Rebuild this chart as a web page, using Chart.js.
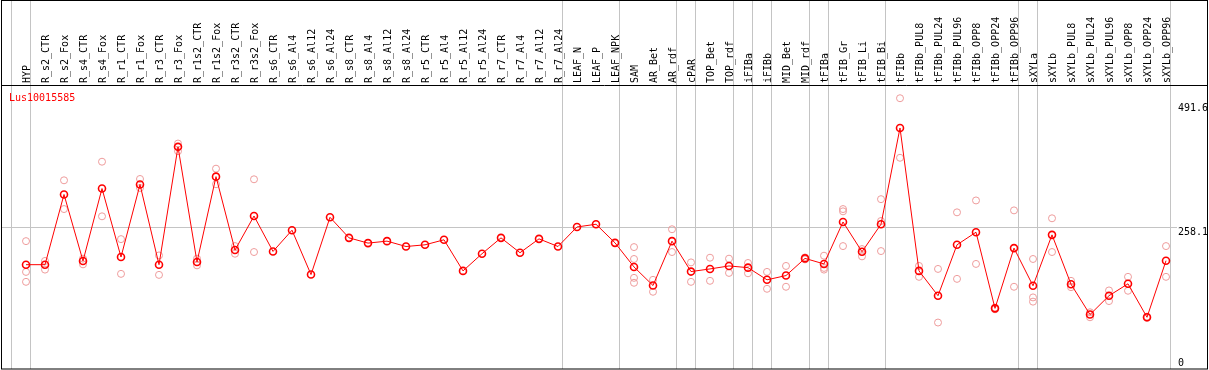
<!DOCTYPE html>
<html>
<head>
<meta charset="utf-8">
<script src="https://cdn.jsdelivr.net/npm/chart.js@4/dist/chart.umd.min.js"></script>
<style>
  html, body { margin: 0; padding: 0; background: #fff; }
  canvas { display: block; }
</style>
</head>
<body>
<canvas id="grafico" width="1209" height="370"></canvas>
<script>
const geneName = 'Lus10015585';

const categories = ['HYP', 'R_s2_CTR', 'R_s2_Fox', 'R_s4_CTR', 'R_s4_Fox', 'R_r1_CTR', 'R_r1_Fox', 'R_r3_CTR', 'R_r3_Fox',
    'R_r1s2_CTR', 'R_r1s2_Fox', 'R_r3s2_CTR', 'R_r3s2_Fox', 'R_s6_CTR', 'R_s6_Al4', 'R_s6_Al12', 'R_s6_Al24',
    'R_s8_CTR', 'R_s8_Al4', 'R_s8_Al12', 'R_s8_Al24', 'R_r5_CTR', 'R_r5_Al4', 'R_r5_Al12', 'R_r5_Al24',
    'R_r7_CTR', 'R_r7_Al4', 'R_r7_Al12', 'R_r7_Al24', 'LEAF_N', 'LEAF_P', 'LEAF_NPK', 'SAM', 'AR_Bet', 'AR_rdf',
    'cPAR', 'TOP_Bet', 'TOP_rdf', 'iFIBa', 'iFIBb', 'MID_Bet', 'MID_rdf', 'tFIBa', 'tFIB_Gr', 'tFIB_Li', 'tFIB_Bi',
    'tFIBb', 'tFIBb_PUL8', 'tFIBb_PUL24', 'tFIBb_PUL96', 'tFIBb_OPP8', 'tFIBb_OPP24', 'tFIBb_OPP96',
    'sXYLa', 'sXYLb', 'sXYLb_PUL8', 'sXYLb_PUL24', 'sXYLb_PUL96', 'sXYLb_OPP8', 'sXYLb_OPP24', 'sXYLb_OPP96'];

// media por amostra (linha vermelha)
const meanValues = [187.7, 187.7, 319.8, 194.7, 331.0, 202.1, 338.5, 187.7, 409.5, 192.8, 353.4, 215.2, 279.3,
    212.6, 252.6, 169.1, 276.9, 238.2, 228.3, 232.0, 221.9, 225.1, 234.5, 176.0, 208.3, 238.2, 210.2, 236.3, 221.9,
    258.7, 263.8, 228.8, 183.4, 148.5, 232.0, 174.7, 179.7, 185.3, 182.1, 159.2, 167.2, 199.5, 189.1, 268.1, 212.0,
    263.8, 445.0, 176.0, 129.3, 225.1, 248.8, 105.5, 218.9, 148.0, 243.8, 150.9, 93.8, 129.3, 151.7, 88.7, 195.2];

// replicas (pontos claros)
const rep1 = [232.0, 194.7, 346.5, 199.0, 381.5, 235.8, 349.0, 205.1, 415.7, 199.0, 368.4, 222.7, 348.4,
    null, null, null, null, null, null, null, null, null, null, null, null, null, null, null, null, null, null, null,
    220.8, 159.2, 254.4, 192.0, 200.8, 199.0, 190.9, 174.1, 185.3, 201.4, 204.6, 292.4, 217.1, 311.0, 501.0,
    185.3, 179.7, 286.2, 308.6, 106.9, 289.9, 198.4, 275.0, 157.3, 98.1, 139.2, 164.8, 90.0, 222.7];
const rep2 = [174.1, 178.4, 292.4, 188.3, 278.7, 170.4, 332.1, 168.5, 401.3, 186.4, 339.1, 208.3, 211.5,
    null, null, null, null, null, null, null, null, null, null, null, null, null, null, null, null, null, null, null,
    198.4, 136.7, 211.5, 155.4, 157.3, 172.2, 171.5, 142.3, 146.1, 197.6, 181.6, 288.1, 203.3, 269.9, 388.9,
    164.8, 78.8, 161.0, 189.1, 103.7, 146.1, 126.1, 211.5, 145.3, 88.7, 119.2, 138.6, 87.5, 164.8];
const rep3 = [155.4, null, null, null, null, null, null, null, null, null, null, null, null,
    null, null, null, null, null, null, null, null, null, null, null, null, null, null, null, null, null, null, null,
    162.9, null, null, null, null, null, null, null, null, null, 178.4, 222.7, null, 213.3, null,
    null, null, null, null, null, null, 118.1, null, null, null, null, null, null, null];
const rep4 = [null, null, null, null, null, null, null, null, null, null, null, null, null,
    null, null, null, null, null, null, null, null, null, null, null, null, null, null, null, null, null, null, null,
    153.6, null, null, null, null, null, null, null, null, null, null, null, null, null, null,
    null, null, null, null, null, null, null, null, null, null, null, null, null, null];

const yTicks = [0, 258.1, 491.6];
const yGrid = [258.1];
const yMax = 524;
// ultima amostra de cada grupo (linha cinzenta a seguir)
const groupEnds = ['HYP', 'R_r7_Al24', 'LEAF_NPK', 'AR_rdf', 'cPAR', 'TOP_rdf', 'iFIBa', 'iFIBb', 'MID_rdf',
    'tFIBa', 'tFIB_Bi', 'tFIBb_OPP96', 'sXYLa', 'sXYLb_OPP96'];

const FONTE = '10px "DejaVu Sans Mono", monospace';
const CINZA = '#c4c4c4';

const moldura = {
    id: 'moldura',
    beforeDatasetsDraw(chart) {
        const ctx = chart.ctx;
        const xs = chart.scales.x, ys = chart.scales.y;
        const passo = xs.getPixelForValue(1) - xs.getPixelForValue(0);
        ctx.save();
        ctx.strokeStyle = CINZA;
        ctx.lineWidth = 1;
        const linhaV = px => {
            const x = Math.floor(px) + 0.5;
            ctx.beginPath(); ctx.moveTo(x, 0); ctx.lineTo(x, 369); ctx.stroke();
        };
        linhaV(xs.getPixelForValue(0) - passo + 4.5);
        groupEnds.forEach(nome => linhaV(xs.getPixelForValue(categories.indexOf(nome)) + 4.5));
        yGrid.forEach(v => {
            const y = Math.floor(ys.getPixelForValue(v)) + 0.5;
            ctx.beginPath(); ctx.moveTo(1, y); ctx.lineTo(1177, y); ctx.stroke();
        });
        ctx.restore();
    },
    afterDraw(chart) {
        const ctx = chart.ctx;
        const xs = chart.scales.x, ys = chart.scales.y;
        ctx.save();
        ctx.font = FONTE;
        ctx.fillStyle = '#000';
        // rotulos das amostras, na vertical
        categories.forEach((nome, i) => {
            const x = xs.getPixelForValue(i) + 4;
            ctx.save();
            ctx.translate(x, 83);
            ctx.rotate(-Math.PI / 2);
            ctx.textAlign = 'left';
            ctx.textBaseline = 'alphabetic';
            ctx.fillText(nome, 0, 0);
            ctx.restore();
        });
        // eixo y a direita
        ctx.textAlign = 'left';
        ctx.textBaseline = 'alphabetic';
        yTicks.forEach(v => {
            const y = Math.min(ys.getPixelForValue(v) + 7.5, 366);
            ctx.fillText(String(v), 1178, y);
        });
        // titulo
        ctx.fillStyle = '#ff0000';
        ctx.fillText(geneName, 9, 100.5);
        // moldura preta
        ctx.strokeStyle = '#000';
        ctx.lineWidth = 1;
        ctx.strokeRect(1.5, 0.5, 1206, 368.5);
        ctx.beginPath(); ctx.moveTo(1, 85.5); ctx.lineTo(1208, 85.5); ctx.stroke();
        ctx.restore();
    }
};

const corClara = '#ee9c9c';
const replica = dados => ({
    data: dados,
    showLine: false,
    pointRadius: 3.5,
    pointBorderWidth: 1,
    pointBorderColor: corClara,
    pointBackgroundColor: 'rgba(0,0,0,0)',
    clip: false
});

new Chart(document.getElementById('grafico'), {
    type: 'line',
    data: {
        labels: categories,
        datasets: [{
            data: meanValues,
            borderColor: '#ff0000',
            borderWidth: 1,
            pointRadius: 3.5,
            pointBorderWidth: 1.6,
            pointBorderColor: '#ff0000',
            pointBackgroundColor: 'rgba(0,0,0,0)',
            tension: 0,
            clip: false
        }, replica(rep1), replica(rep2), replica(rep3), replica(rep4)]
    },
    options: {
        responsive: false,
        animation: false,
        devicePixelRatio: 1,
        layout: { padding: { left: 16.5, right: 33.5, top: 86, bottom: 3.5 } },
        plugins: { legend: { display: false }, title: { display: false }, tooltip: { enabled: false } },
        scales: {
            x: { type: 'category', offset: true, display: false },
            y: { min: 0, max: yMax, display: false }
        }
    },
    plugins: [moldura]
});
</script>
</body>
</html>
